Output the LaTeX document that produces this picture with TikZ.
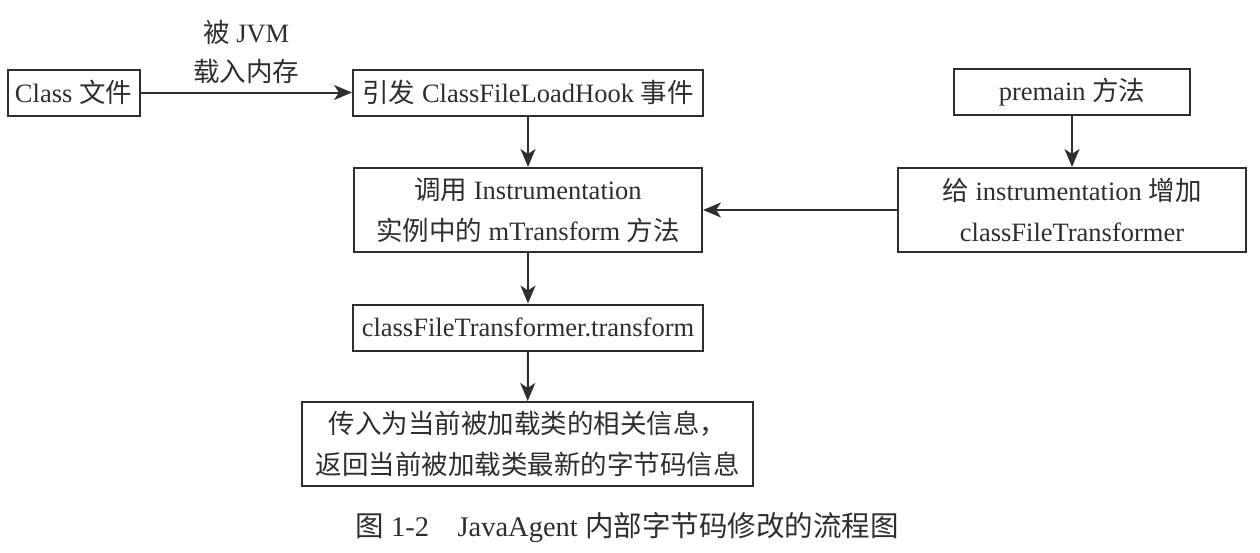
\documentclass[tikz,border=0pt]{standalone}
\usepackage{fontspec}
\setmainfont{Liberation Serif}
\newfontfamily\cjk{Noto Sans CJK SC}
\newcommand\zh[1]{{\cjk #1}}
\usetikzlibrary{arrows.meta}
\definecolor{ink}{HTML}{2E2E2E}
\begin{document}
\begin{tikzpicture}[x=1pt,y=-1pt,
  box/.style={draw=ink,line width=2pt,inner sep=0pt,align=center,text=ink,
    font=\fontsize{26.5}{41}\selectfont},
  conn/.style={draw=ink,line width=2pt,-{Stealth[length=18pt,width=15pt,inset=5pt]}},
  lbl/.style={text=ink,font=\fontsize{26.5}{39}\selectfont,align=center,inner sep=0pt}]
\useasboundingbox (0,0) rectangle (1260,552);
\node[box,minimum width=132pt,minimum height=46pt] (cls) at (73.5,92.5) {Class \zh{文件}};
\node[box,minimum width=350pt,minimum height=46pt] (hook) at (528,92.5) {\zh{引发} ClassFileLoadHook \zh{事件}};
\node[box,minimum width=348pt,minimum height=84pt] (call) at (528,210) {\zh{调用} Instrumentation\\\zh{实例中的} mTransform \zh{方法}};
\node[box,minimum width=350pt,minimum height=46pt] (cft) at (528,327.5) {classFileTransformer.transform};
\node[box,minimum width=451pt,minimum height=84pt] (ret) at (527.5,444) {\zh{传入为当前被加载类的相关信息，}\\\zh{返回当前被加载类最新的字节码信息}};
\node[box,minimum width=236pt,minimum height=46pt] (pre) at (1072,92) {premain \zh{方法}};
\node[box,minimum width=348pt,minimum height=84pt] (give) at (1072,210) {\zh{给} instrumentation \zh{增加}\\classFileTransformer};
\draw[conn] (cls) -- node[lbl,above=8pt] {\zh{被} JVM\\\zh{载入内存}} (hook);
\draw[conn] (hook) -- (call);
\draw[conn] (call) -- (cft);
\draw[conn] (cft) -- (ret);
\draw[conn] (pre) -- (give);
\draw[conn] (give) -- (call);
\node[lbl,font=\fontsize{28.5}{30}\selectfont] (cap) at (627,527) {\zh{图} 1-2\quad JavaAgent \zh{内部字节码修改的流程图}};
\end{tikzpicture}
\end{document}
